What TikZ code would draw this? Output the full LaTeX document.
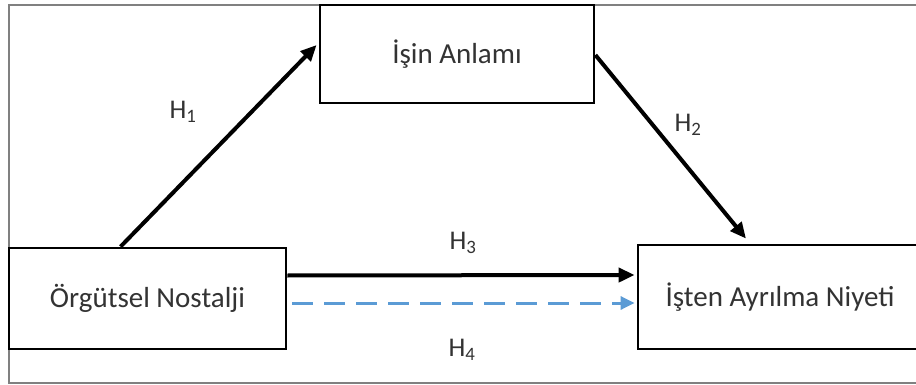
\documentclass[tikz,border=0pt]{standalone}
\usepackage{fontspec}
\setmainfont{Carlito}
\usetikzlibrary{arrows.meta}
\definecolor{txt}{HTML}{333333}
\definecolor{dashblue}{HTML}{5B9BD5}
\begin{document}
\begin{tikzpicture}[x=1pt,y=-1pt,
  box/.style={draw=black,line width=2.8pt,fill=white,inner sep=0pt,text=txt,font=\fontsize{29}{32}\selectfont},
  lab/.style={text=txt,font=\fontsize{27}{29}\selectfont,inner sep=0pt},
  arr/.style={line width=4pt,-{Triangle[length=16pt,width=14pt]}},
  darr/.style={line width=3pt,draw=dashblue,dash pattern=on 21pt off 11pt,-{Triangle[length=14pt,width=13pt,fill=dashblue]}}]
\useasboundingbox (0,0) rectangle (916,385);
\fill[white] (0,0) rectangle (916,385);
\draw[gray,line width=2pt] (9,5) rectangle (930,383);
\node[box,minimum width=274pt,minimum height=98pt] (T) at (457,54) {İşin Anlamı};
\node[box,minimum width=277pt,minimum height=101pt] (L) at (147.5,298.5) {Örgütsel Nostalji};
\node[box,minimum width=284pt,minimum height=104pt] (R) at (780,297) {İşten Ayrılma Niyeti};
\coordinate (e4) at ([xshift=-2pt]R.west);
\draw[arr] ([xshift=113pt]L.north west) -- ([yshift=9pt,xshift=-2pt]T.west);
\draw[arr] ([yshift=-1pt]T.east) -- ([xshift=-34pt,yshift=5pt]R.north);
\draw[arr] ([yshift=23pt]L.east) -- ([yshift=22pt,xshift=-2pt]R.west);
\draw[darr] ([xshift=5pt,yshift=-4.5pt]L.east) coordinate (s4) -- (s4 -| e4);
\node[lab] (h1) at (183,112) {H\textsubscript{1}};
\node[lab] (h2) at (688,125) {H\textsubscript{2}};
\node[lab] (h3) at (463,243) {H\textsubscript{3}};
\node[lab] (h4) at (462,350) {H\textsubscript{4}};
\end{tikzpicture}
\end{document}
